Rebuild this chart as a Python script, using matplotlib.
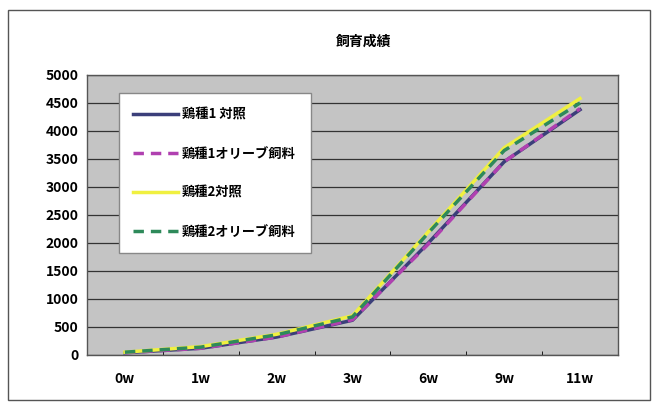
import matplotlib
matplotlib.use('Agg')
import matplotlib.pyplot as plt
from matplotlib.patches import Rectangle

plt.rcParams['font.family'] = ['Noto Sans CJK JP', 'DejaVu Sans']

weeks = ['0w', '1w', '2w', '3w', '6w', '9w', '11w']
breed1_ctrl = [40, 120, 320, 620, 2000, 3450, 4380]
breed1_olive = [40, 120, 320, 630, 1980, 3450, 4400]
breed2_ctrl = [50, 150, 370, 700, 2200, 3700, 4580]
breed2_olive = [50, 140, 360, 680, 2180, 3650, 4500]
yticks = list(range(0, 5001, 500))

fig = plt.figure(figsize=(6.56, 4.07), dpi=100)
fig.patch.set_facecolor('white')
# outer chart border
fig.patches.append(Rectangle((0.012, 0.017), 0.979, 0.958, transform=fig.transFigure,
                             fill=False, edgecolor='#555555', linewidth=1.0))

ax = fig.add_axes([0.1326, 0.1278, 0.8094, 0.688])
ax.set_facecolor('#c4c4c4')

x = list(range(len(weeks)))
ax.plot(x, breed1_ctrl, color='#3b3f7a', linewidth=2.5, label='鶏種1 対照', zorder=3)
ax.plot(x, breed1_olive, color='#b040b0', linewidth=2.5, linestyle=(0, (3, 2)),
        label='鶏種1オリーブ飼料', zorder=3)
ax.plot(x, breed2_ctrl, color='#f0f040', linewidth=2.5, label='鶏種2対照', zorder=3)
ax.plot(x, breed2_olive, color='#2e8a5a', linewidth=2.5, linestyle=(0, (3, 2)),
        label='鶏種2オリーブ飼料', zorder=3)

ax.set_xlim(-0.5, len(weeks) - 0.5)
ax.set_ylim(0, 5000)
ax.set_yticks(yticks)
ax.set_yticklabels([str(v) for v in yticks], fontsize=10, fontweight='bold')
ax.set_xticks(x)
ax.set_xticklabels(weeks, fontsize=10, fontweight='bold')
ax.tick_params(axis='x', length=0, pad=12)
ax.tick_params(axis='y', length=0, pad=6)
ax.set_xticks([i + 0.5 for i in range(len(weeks) - 1)], minor=True)
ax.tick_params(axis='x', which='minor', direction='in', length=3)
ax.grid(axis='y', color='#333333', linewidth=0.9)
ax.set_axisbelow(True)
for s in ax.spines.values():
    s.set_color('#555555')
    s.set_linewidth(1.0)

leg = ax.legend(loc='upper left', bbox_to_anchor=(0.06, 0.935), fontsize=9.5,
                handlelength=3.4, handletextpad=0.3, labelspacing=1.9, borderpad=1.1,
                borderaxespad=0, frameon=True, fancybox=False, framealpha=1.0,
                edgecolor='#888888')
for t in leg.get_texts():
    t.set_fontweight('bold')

fig.text(0.555, 0.897, '飼育成績', ha='center', va='center', fontsize=10, fontweight='bold')

fig.savefig('out.png', dpi=100)
